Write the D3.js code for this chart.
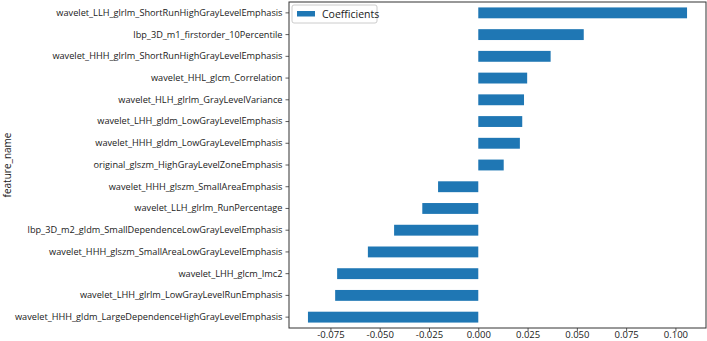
<!DOCTYPE html>
<html>
<head>
<meta charset="utf-8">
<script src="https://cdn.jsdelivr.net/npm/d3@7"></script>
<style>
  body { margin: 0; background: #fff; }
  svg text { font-family: "Open Sans", "Noto Sans", sans-serif; fill: #1a1a1a; }
</style>
</head>
<body>
<svg id="chart" width="707" height="341"></svg>
<script>
// feature names, top to bottom
const features = [
    "wavelet_LLH_glrlm_ShortRunHighGrayLevelEmphasis",
    "lbp_3D_m1_firstorder_10Percentile",
    "wavelet_HHH_glrlm_ShortRunHighGrayLevelEmphasis",
    "wavelet_HHL_glcm_Correlation",
    "wavelet_HLH_glrlm_GrayLevelVariance",
    "wavelet_LHH_gldm_LowGrayLevelEmphasis",
    "wavelet_HHH_gldm_LowGrayLevelEmphasis",
    "original_glszm_HighGrayLevelZoneEmphasis",
    "wavelet_HHH_glszm_SmallAreaEmphasis",
    "wavelet_LLH_glrlm_RunPercentage",
    "lbp_3D_m2_gldm_SmallDependenceLowGrayLevelEmphasis",
    "wavelet_HHH_glszm_SmallAreaLowGrayLevelEmphasis",
    "wavelet_LHH_glcm_Imc2",
    "wavelet_LHH_glrlm_LowGrayLevelRunEmphasis",
    "wavelet_HHH_gldm_LargeDependenceHighGrayLevelEmphasis"
];
const coefficients = [
    0.1059, 0.0535, 0.0367, 0.0248, 0.0232, 0.0223, 0.0211, 0.0129,
    -0.0204, -0.0284, -0.0427, -0.0560, -0.0716, -0.0726, -0.0864
];
const xTicks = [-0.075, -0.050, -0.025, 0.000, 0.025, 0.050, 0.075, 0.100];
const seriesName = "Coefficients";
const yTitle = "feature_name";

const svg = d3.select("#chart");
const margin = { left: 289, right: 1, top: 2, bottom: 13 };
const W = 707, H = 341;
const innerW = W - margin.left - margin.right;
const innerH = H - margin.top - margin.bottom;

const data = features.map((f, i) => ({ name: f, value: coefficients[i] }));

// matplotlib style 5% margins
const lo = d3.min(coefficients), hi = d3.max(coefficients);
const pad = (hi - lo) * 0.05;
const x = d3.scaleLinear().domain([lo - pad, hi + pad]).range([0, innerW]);
const y = d3.scaleBand().domain(features).range([0, innerH])
    .paddingInner(0.5).paddingOuter(0.25);

const g = svg.append("g").attr("transform", `translate(${margin.left},${margin.top})`);

// bars
g.selectAll("rect.bar")
    .data(data)
    .enter().append("rect")
    .attr("class", "bar")
    .attr("x", d => x(Math.min(0, d.value)))
    .attr("y", d => y(d.name))
    .attr("width", d => Math.abs(x(d.value) - x(0)))
    .attr("height", y.bandwidth())
    .attr("fill", "#1f77b4");

// axes
const fmt = d3.format(".3f");
const xAxis = g.append("g")
    .attr("transform", `translate(0,${innerH})`)
    .call(d3.axisBottom(x).tickValues(xTicks)
        .tickFormat(d => fmt(d).replace("\u2212", "-"))
        .tickSize(3.5).tickPadding(0));
xAxis.selectAll("text").style("font-size", "9.5px");

const yAxis = g.append("g")
    .call(d3.axisLeft(y).tickSize(3.5).tickPadding(3));
yAxis.selectAll("text").style("font-size", "10px");

// shrink the feature labels so the longest one fits like the reference (~268px)
const widest = d3.max(yAxis.selectAll("text").nodes(), n => n.getComputedTextLength());
const fs = 10 * Math.min(1, 268 / widest);
yAxis.selectAll("text").style("font-size", fs + "px");

[xAxis, yAxis].forEach(a => {
    a.select(".domain").remove();
    a.selectAll(".tick line").attr("stroke", "#333").attr("stroke-width", 0.8);
});

// frame
g.append("rect")
    .attr("x", 0).attr("y", 0)
    .attr("width", innerW).attr("height", innerH)
    .attr("fill", "none")
    .attr("stroke", "#333")
    .attr("stroke-width", 1);

// y title
svg.append("text")
    .attr("transform", `translate(11,${margin.top + innerH / 2}) rotate(-90)`)
    .attr("text-anchor", "middle")
    .style("font-size", "10px")
    .text(yTitle);

// legend
const legend = g.append("g").attr("transform", "translate(3,3)");
legend.append("rect")
    .attr("width", 85).attr("height", 18)
    .attr("rx", 2)
    .attr("fill", "#fff")
    .attr("stroke", "#ccc");
legend.append("rect")
    .attr("x", 5).attr("y", 6)
    .attr("width", 18).attr("height", 5.5)
    .attr("fill", "#1f77b4");
legend.append("text")
    .attr("x", 30).attr("y", 13)
    .style("font-size", "10.5px")
    .text(seriesName);
</script>
</body>
</html>
